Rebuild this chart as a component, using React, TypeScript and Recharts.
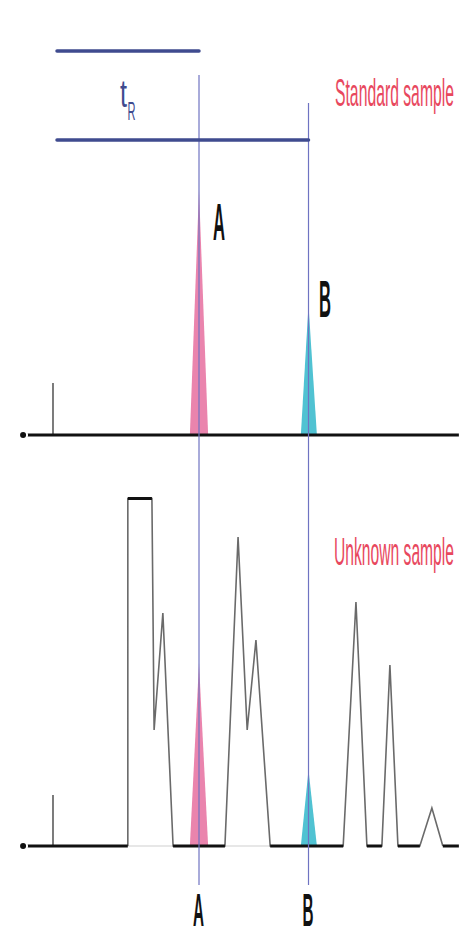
import React from 'react';
import { ComposedChart, Line, Area, XAxis, YAxis, ReferenceLine, ReferenceDot } from 'recharts';

// ---------- data ----------
const peakNames = ['A', 'B'];
const retentionTimes = [4.0, 7.0]; // min
const sampleTitles = ['Standard sample', 'Unknown sample'];
const rtSymbol = ['t', 'R'];

const timeDomain = [-1.452, 11.123];
const baselineStart = -0.82;
const baselineEnd = 11.12;
const rtBarStart = 0.11;
const rtBarLevels = [153.6, 118]; // standard-panel units
const guideTop = [144, 132.8];
const guideBottom = -180;

// standard sample
const stdInjection = [{ t: 0, v: 0 }, { t: 0, v: 20.8 }];
const stdPeakA = [{ t: 3.75, v: 0 }, { t: 4.0, v: 98 }, { t: 4.25, v: 0 }];
const stdPeakB = [{ t: 6.79, v: 0 }, { t: 7.0, v: 52 }, { t: 7.23, v: 0 }];
const stdBaseline = [{ t: baselineStart, v: 0 }, { t: baselineEnd, v: 0 }];
const stdApex = [98, 52];

// unknown sample
const unkInjection = [{ t: 0, v: 0 }, { t: 0, v: 20.4 }];
const unkPeakA = [{ t: 3.75, v: 0 }, { t: 4.0, v: 73.2 }, { t: 4.25, v: 0 }];
const unkPeakB = [{ t: 6.79, v: 0 }, { t: 7.0, v: 30.4 }, { t: 7.23, v: 0 }];
const unkTrace = [
  { t: 2.05, v: 0 }, { t: 2.05, v: 139 }, { t: 2.71, v: 139 }, { t: 2.77, v: 46.4 },
  { t: 3.01, v: 93.2 }, { t: 3.29, v: 0 }, { t: 4.71, v: 0 }, { t: 5.07, v: 123.6 },
  { t: 5.32, v: 46.4 }, { t: 5.56, v: 82.4 }, { t: 5.95, v: 0 }, { t: 7.95, v: 0 },
  { t: 8.30, v: 97.6 }, { t: 8.60, v: 0 }, { t: 9.01, v: 0 }, { t: 9.23, v: 72.4 },
  { t: 9.45, v: 0 }, { t: 10.05, v: 0 }, { t: 10.38, v: 15.2 }, { t: 10.68, v: 0 },
];
const unkHiddenBaseline = [
  { t: 2.05, v: 0 }, { t: 3.29, v: 0 }, { t: 3.29, v: null },
  { t: 4.71, v: 0 }, { t: 5.95, v: 0 },
];
const unkBaseline = [
  { t: baselineStart, v: 0 }, { t: 2.05, v: 0 }, { t: 2.05, v: null },
  { t: 2.05, v: 139 }, { t: 2.71, v: 139 }, { t: 2.71, v: null },
  { t: 3.29, v: 0 }, { t: 4.71, v: 0 }, { t: 4.71, v: null },
  { t: 5.95, v: 0 }, { t: 7.95, v: 0 }, { t: 7.95, v: null },
  { t: 8.60, v: 0 }, { t: 9.01, v: 0 }, { t: 9.01, v: null },
  { t: 9.45, v: 0 }, { t: 10.05, v: 0 }, { t: 10.05, v: null },
  { t: 10.68, v: 0 }, { t: baselineEnd, v: 0 },
];

// ---------- styles ----------
const W = 459;
const H = 936;
const FONT = 'Liberation Sans, Arial, sans-serif';
const PINK = '#ea84ad';
const CYAN = '#50c2d2';
const GUIDE = '#6f73c2';
const BAR = '#3f4b8f';
const RED = '#e8485e';
const TRACE = '#6a6a6a';

// condensed text: scaled horizontally, textLength fixes the exact width
const Txt = (p: any) => {
  const sx = p.width / (p.em * p.size);
  const x = p.cx + (p.dx || 0);
  const y = p.cy + (p.dy || 0);
  return (
    <text
      transform={`translate(${x},${y}) scale(${sx},1)`}
      x={0}
      y={0}
      fontSize={p.size}
      textLength={p.width / sx}
      lengthAdjust="spacingAndGlyphs"
      fill={p.color}
      textAnchor={p.anchor || 'start'}
      fontFamily={FONT}
      fontWeight={p.weight || 'normal'}
    >
      {p.text}
    </text>
  );
};

export default function App() {
  return (
    <div style={{ position: 'absolute', left: 0, top: 0, width: W, height: H, background: '#fff' }}>
      <ComposedChart width={W} height={H} margin={{ top: 0, right: 0, bottom: 0, left: 0 }}>
        <XAxis type="number" dataKey="t" domain={timeDomain} hide allowDataOverflow />
        <YAxis yAxisId="std" type="number" domain={[-200.4, 174]} hide allowDataOverflow />
        <YAxis yAxisId="unk" type="number" domain={[-36, 338.4]} hide allowDataOverflow />

        {/* peak fills */}
        <Area yAxisId="std" data={stdPeakA} dataKey="v" type="linear" fill={PINK} fillOpacity={1} stroke="none" baseValue={0} isAnimationActive={false} />
        <Area yAxisId="std" data={stdPeakB} dataKey="v" type="linear" fill={CYAN} fillOpacity={1} stroke="none" baseValue={0} isAnimationActive={false} />
        <Area yAxisId="unk" data={unkPeakA} dataKey="v" type="linear" fill={PINK} fillOpacity={1} stroke="none" baseValue={0} isAnimationActive={false} />
        <Area yAxisId="unk" data={unkPeakB} dataKey="v" type="linear" fill={CYAN} fillOpacity={1} stroke="none" baseValue={0} isAnimationActive={false} />

        {/* traces */}
        <Line yAxisId="unk" data={unkHiddenBaseline} dataKey="v" type="linear" stroke="#d0d0d0" strokeWidth={1.2} dot={false} isAnimationActive={false} />
        <Line yAxisId="unk" data={unkTrace} dataKey="v" type="linear" stroke={TRACE} strokeWidth={1.6} dot={false} isAnimationActive={false} />
        <Line yAxisId="std" data={stdInjection} dataKey="v" type="linear" stroke="#444" strokeWidth={1.4} dot={false} isAnimationActive={false} />
        <Line yAxisId="unk" data={unkInjection} dataKey="v" type="linear" stroke="#444" strokeWidth={1.4} dot={false} isAnimationActive={false} />
        <Line yAxisId="std" data={stdBaseline} dataKey="v" type="linear" stroke="#111" strokeWidth={3.2} dot={false} isAnimationActive={false} />
        <Line yAxisId="unk" data={unkBaseline} dataKey="v" type="linear" stroke="#111" strokeWidth={3.2} dot={false} isAnimationActive={false} />

        {/* retention time guides */}
        {retentionTimes.map((rt, i) => (
          <ReferenceLine
            key={'g' + i}
            yAxisId="std"
            segment={[{ x: rt, y: guideTop[i] }, { x: rt, y: guideBottom }]}
            stroke={GUIDE}
            strokeWidth={1.2}
          />
        ))}
        {retentionTimes.map((rt, i) => (
          <ReferenceLine
            key={'b' + i}
            yAxisId="std"
            segment={[{ x: rtBarStart, y: rtBarLevels[i] }, { x: rt, y: rtBarLevels[i] }]}
            stroke={BAR}
            strokeWidth={3.5}
            strokeLinecap="round"
          />
        ))}

        {/* tR symbol */}
        <ReferenceDot
          yAxisId="std"
          x={rtBarStart}
          y={rtBarLevels[1]}
          r={0}
          shape={(p: any) => (
            <g>
              <Txt cx={p.cx} cy={p.cy} dx={63} dy={-33} size={38} em={0.278} width={7} color={BAR} text={rtSymbol[0]} />
              <Txt cx={p.cx} cy={p.cy} dx={70.5} dy={-20} size={26} em={0.722} width={8} color={BAR} text={rtSymbol[1]} />
            </g>
          )}
        />

        {/* sample titles */}
        <ReferenceDot yAxisId="std" x={timeDomain[1]} y={0} r={0}
          shape={(p: any) => <Txt cx={p.cx} cy={p.cy} dx={-5} dy={-329} size={38} em={7.56} width={119} color={RED} anchor="end" text={sampleTitles[0]} />} />
        <ReferenceDot yAxisId="unk" x={timeDomain[1]} y={0} r={0}
          shape={(p: any) => <Txt cx={p.cx} cy={p.cy} dx={-5} dy={-281} size={38} em={7.67} width={120} color={RED} anchor="end" text={sampleTitles[1]} />} />

        {/* peak labels, standard */}
        {retentionTimes.map((rt, i) => (
          <ReferenceDot key={'ls' + i} yAxisId="std" x={rt} y={stdApex[i]} r={0}
            shape={(p: any) => (
              <Txt cx={p.cx} cy={p.cy} dx={i === 0 ? 14 : 10.5} dy={i === 0 ? 50 : 12} size={52} em={0.722} width={12} color="#111" weight="bold" text={peakNames[i]} />
            )} />
        ))}
        {/* peak labels, bottom */}
        {retentionTimes.map((rt, i) => (
          <ReferenceDot key={'lu' + i} yAxisId="unk" x={rt} y={0} r={0}
            shape={(p: any) => (
              <Txt cx={p.cx} cy={p.cy} dx={-0.5} dy={80} size={46} em={0.722} width={11} color="#111" weight="bold" anchor="middle" text={peakNames[i]} />
            )} />
        ))}
      </ComposedChart>
    </div>
  );
}
